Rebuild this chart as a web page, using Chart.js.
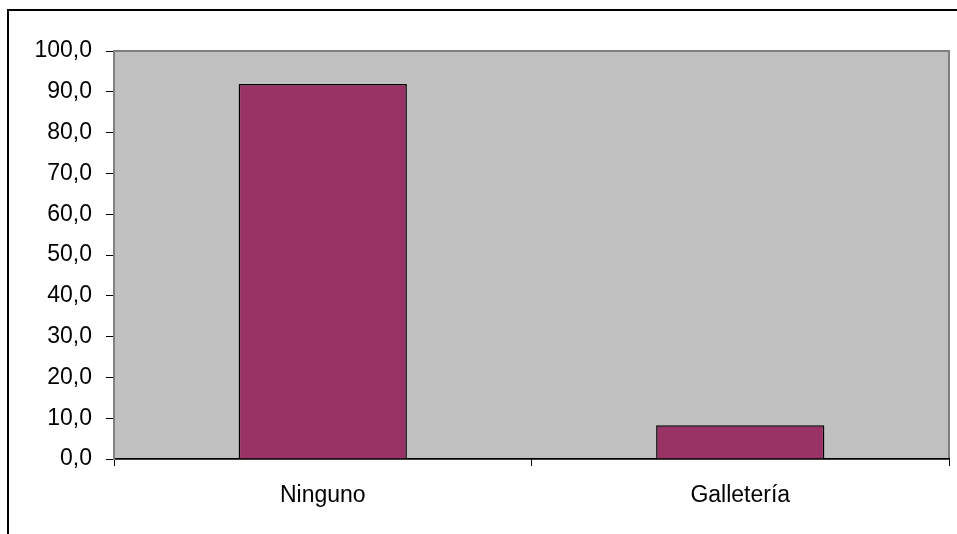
<!DOCTYPE html>
<html>
<head>
<meta charset="utf-8">
<script src="https://cdn.jsdelivr.net/npm/chart.js@4"></script>
<style>
  html, body { margin: 0; padding: 0; background: #fff; }
  #wrap { width: 957px; height: 534px; position: relative; }
</style>
</head>
<body>
<div id="wrap"><canvas id="chart" width="957" height="534"></canvas></div>
<script>
const categories = ["Ninguno", "Galletería"];
const values = [91.9, 8.3];
const yTicks = [0, 10, 20, 30, 40, 50, 60, 70, 80, 90, 100];

// gray plot area + outer frame like the Excel export
const frame = {
  id: "frame",
  beforeDraw(chart) {
    const { ctx, chartArea: a } = chart;
    ctx.save();
    ctx.fillStyle = "#C0C0C0";
    ctx.fillRect(a.left, a.top, a.right - a.left, a.bottom - a.top);
    ctx.strokeStyle = "#808080";
    ctx.lineWidth = 2;
    ctx.strokeRect(a.left, a.top, a.right - a.left, a.bottom - a.top);
    ctx.strokeStyle = "#000";
    ctx.lineWidth = 2;
    ctx.beginPath();
    ctx.moveTo(8, 534);
    ctx.lineTo(8, 10);
    ctx.lineTo(957, 10);
    ctx.stroke();
    ctx.restore();
  },
};

function initChart() {
  const ctx = document.getElementById("chart").getContext("2d");
  new Chart(ctx, {
    type: "bar",
    data: {
      labels: categories,
      datasets: [
        {
          data: values,
          backgroundColor: "#993366",
          borderColor: "#000000",
          borderWidth: 1.5,
          categoryPercentage: 1,
          barPercentage: 0.403,
        },
      ],
    },
    options: {
      responsive: false,
      animation: false,
      layout: { padding: { left: 0, top: 51, right: 8, bottom: 0 } },
      scales: {
        x: {
          grid: {
            drawOnChartArea: false,
            color: "#000",
            tickLength: 7,
            offset: true,
          },
          border: { color: "#000", width: 1.5 },
          ticks: {
            color: "#000",
            padding: 16,
            font: { family: "Liberation Sans, Arial", size: 23 },
          },
          afterFit(scale) { scale.height = 75; },
        },
        y: {
          min: 0,
          max: 100,
          afterBuildTicks(scale) {
            scale.ticks = yTicks.map((v) => ({ value: v }));
          },
          grid: {
            drawOnChartArea: false,
            color: "#000",
            tickLength: 8,
          },
          border: { color: "#808080", width: 2 },
          ticks: {
            color: "#000",
            padding: 14,
            font: { family: "Liberation Sans, Arial", size: 23 },
            callback: (v) => v.toFixed(1).replace(".", ","),
          },
          afterFit(scale) { scale.width = 114; },
        },
      },
      plugins: {
        legend: { display: false },
        tooltip: { enabled: false },
      },
    },
    plugins: [frame],
  });
}

initChart();
</script>
</body>
</html>
